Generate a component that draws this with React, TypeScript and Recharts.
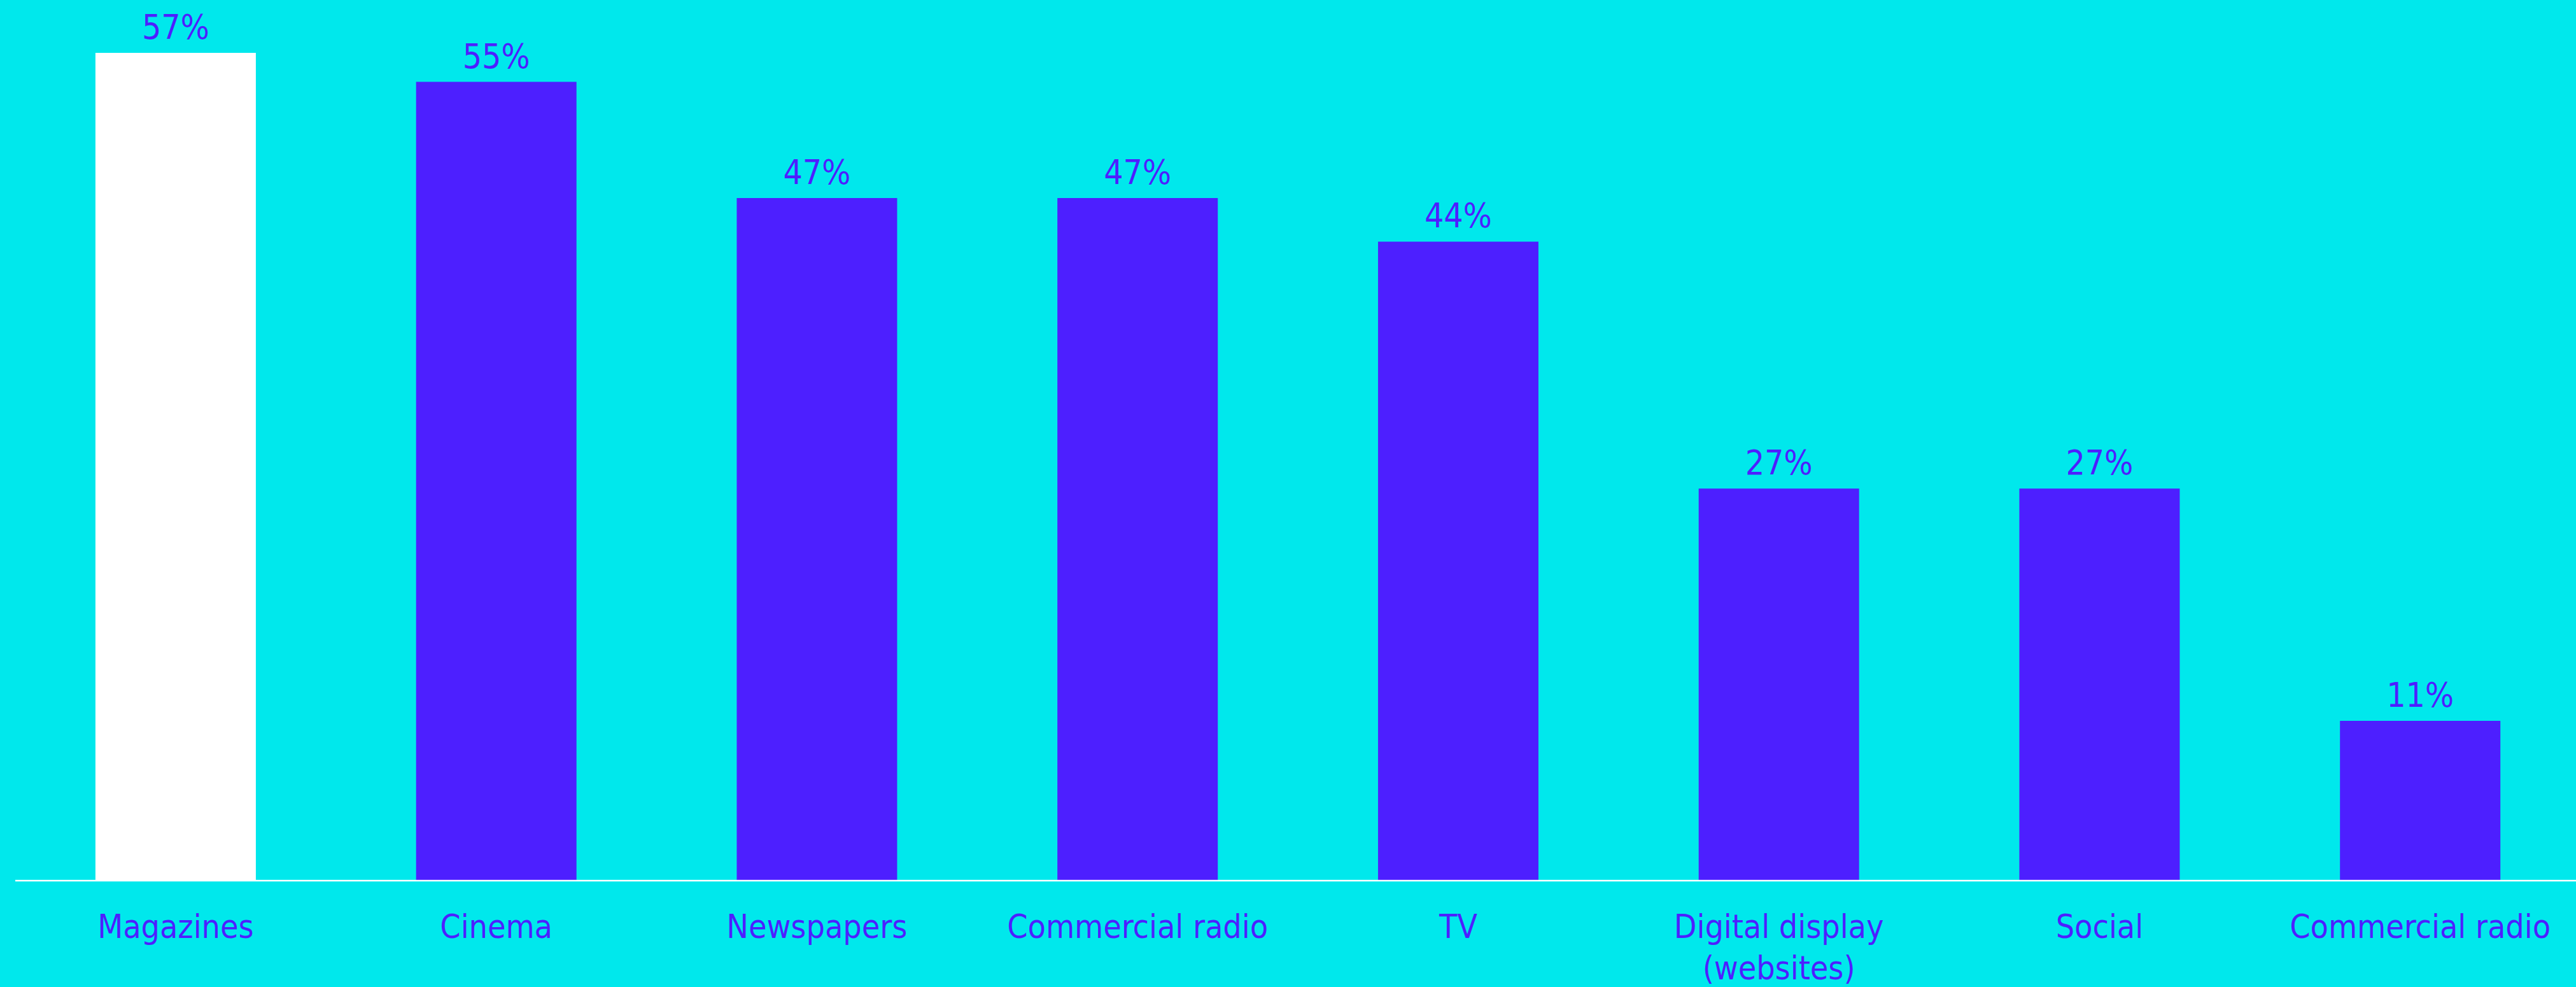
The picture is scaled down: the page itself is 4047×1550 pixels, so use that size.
import { Bar, BarChart, Cell, LabelList, XAxis, YAxis } from "recharts";

const BG = "#00E8EC";
const VIOLET = "#4D1FFF";
const HIGHLIGHT = "Magazines";
const FONT = "'DejaVu Sans Condensed', 'DejaVu Sans', sans-serif";

const categories = [
  "Magazines", "Cinema", "Newspapers", "Commercial radio", "TV",
  "Digital display (websites)", "Social", "Commercial radio",
];
const values = [57, 55, 47, 47, 44, 27, 27, 11];

const rows = categories.map((name, i) => ({ name, value: values[i] }));

// category label, parenthetical part goes on its own line
function Tick({ x, y, payload }: any) {
  const text: string = payload?.value ?? "";
  const cut = text.indexOf(" (");
  const lines = cut > 0 ? [text.slice(0, cut), text.slice(cut + 1)] : [text];
  return (
    <text x={x} y={y + 90} textAnchor="middle" fill={VIOLET} fontSize={51.5} fontFamily={FONT}>
      {lines.map((l, i) => (
        <tspan key={i} x={x} dy={i === 0 ? 0 : 65}>{l}</tspan>
      ))}
    </text>
  );
}

export default function App() {
  return (
    <div style={{ position: "fixed", left: 0, top: 0, width: 4047, height: 1550, background: BG, overflow: "hidden" }}>
      <BarChart width={4054} height={1550} data={rows} barCategoryGap="25%"
        margin={{ top: 83, right: 0, left: 24, bottom: 0 }}>
        <XAxis dataKey="name" height={167} tickLine={false} tickSize={0} tickMargin={0}
          axisLine={{ stroke: "#ffffff", strokeWidth: 2.5 }} tick={<Tick />} interval={0} />
        <YAxis hide domain={[0, 57]} />
        <Bar dataKey="value" isAnimationActive={false}>
          {rows.map((r, i) => <Cell key={i} fill={r.name === HIGHLIGHT ? "#ffffff" : VIOLET} />)}
          <LabelList dataKey="value" position="top" offset={22} fill={VIOLET} fontSize={53}
            fontFamily={FONT} formatter={(v: any) => `${v}%`} />
        </Bar>
      </BarChart>
    </div>
  );
}
